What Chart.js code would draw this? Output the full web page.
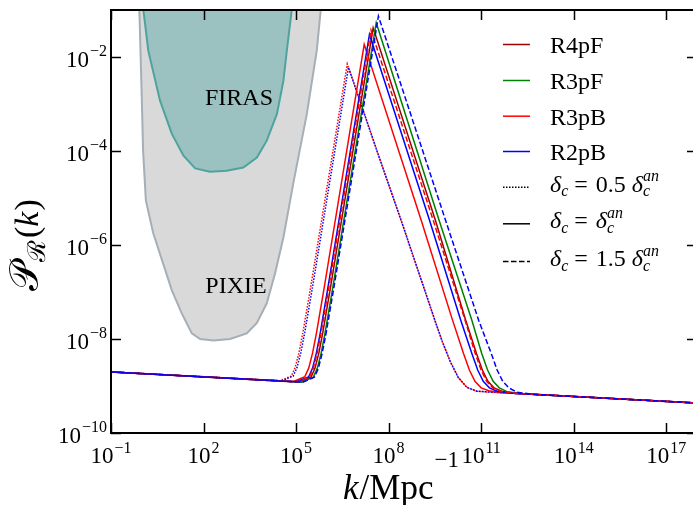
<!DOCTYPE html>
<html>
<head>
<meta charset="utf-8">
<script src="https://cdn.jsdelivr.net/npm/chart.js@4.4.0/dist/chart.umd.min.js"></script>
<style>
  html, body { margin: 0; padding: 0; background: #fff; overflow: hidden; }
  #wrap { width: 693px; height: 505px; overflow: hidden; }
</style>
</head>
<body>
<div id="wrap"><canvas id="mycanvas" width="697" height="505"></canvas></div>
<script>
// all curve values are log10(k) and log10(P_R)
var xTicks = [1e-1, 1e2, 1e5, 1e8, 1e11, 1e14, 1e17];
var yTicks = [1e-10, 1e-8, 1e-6, 1e-4, 1e-2];

var modelNames = ['R4pF', 'R3pF', 'R3pB', 'R2pB'];
var modelColors = ['#a00000', '#008000', '#ff0000', '#0000ff'];

// sensitivity regions
var pixieLogK = [-0.09, -0.08, 0.00, 0.04, 0.13, 0.37, 0.97, 1.29, 1.62, 1.89, 2.32, 2.86, 3.40, 3.73, 4.05, 4.32, 4.59, 4.91, 5.35, 5.67, 5.80, 5.83];
var pixieLogP = [-0.8, -1.0, -2.93, -3.99, -5.05, -5.75, -6.96, -7.45, -7.88, -8.00, -8.03, -8.00, -7.88, -7.66, -7.24, -6.60, -5.84, -4.69, -3.21, -1.87, -1.0, -0.8];
var firasLogK = [0.01, 0.05, 0.21, 0.59, 0.97, 1.35, 1.73, 2.21, 2.75, 3.29, 3.73, 4.05, 4.38, 4.59, 4.70, 4.86, 4.90];
var firasLogP = [-0.8, -1.0, -1.87, -2.93, -3.63, -4.10, -4.37, -4.44, -4.42, -4.35, -4.14, -3.78, -3.21, -2.51, -1.87, -1.0, -0.8];

// delta_c = 0.5 delta_c^an (dotted)
var r3pbHalfK = [-1, 4.47, 4.845, 4.97, 5.095, 5.22, 5.47, 6.66, 7.62, 8.43, 9.51, 9.75, 10.0, 10.26, 10.54, 10.86, 11.3, 18];
var r3pbHalfP = [-8.70, -8.89, -8.79, -8.61, -8.29, -7.87, -6.91, -2.15, -3.99, -5.52, -7.62, -8.07, -8.48, -8.82, -9.03, -9.11, -9.13, -9.363];
var r2pbHalfK = [-1, 4.53, 4.905, 5.03, 5.155, 5.28, 5.53, 6.70, 7.62, 8.43, 9.51, 9.75, 10.0, 10.26, 10.54, 10.86, 11.3, 18];
var r2pbHalfP = [-8.70, -8.89, -8.79, -8.61, -8.29, -7.87, -6.91, -2.22, -3.99, -5.52, -7.62, -8.07, -8.48, -8.82, -9.03, -9.11, -9.13, -9.363];

// delta_c = delta_c^an (solid)
var r4pfK = [-1, 5.11, 5.485, 5.61, 5.735, 5.86, 6.11, 7.50, 9.52, 10.50, 10.85, 11.04, 11.22, 11.42, 11.67, 12.1, 18];
var r4pfP = [-8.70, -8.91, -8.81, -8.63, -8.31, -7.89, -6.93, -1.38, -5.48, -7.60, -8.31, -8.66, -8.90, -9.04, -9.11, -9.156, -9.363];
var r3pfK = [-1, 5.18, 5.56, 5.685, 5.81, 5.935, 6.185, 7.60, 9.64, 10.70, 11.02, 11.21, 11.39, 11.59, 11.84, 12.3, 18];
var r3pfP = [-8.70, -8.92, -8.81, -8.63, -8.31, -7.89, -6.93, -1.27, -5.48, -7.60, -8.31, -8.66, -8.90, -9.04, -9.12, -9.163, -9.363];
var r3pbK = [-1, 4.9, 5.285, 5.41, 5.535, 5.66, 5.91, 7.21, 9.06, 10.05, 10.43, 10.62, 10.80, 11.0, 11.25, 11.6, 18];
var r3pbP = [-8.70, -8.91, -8.80, -8.62, -8.30, -7.88, -6.92, -1.73, -5.48, -7.55, -8.31, -8.66, -8.90, -9.04, -9.10, -9.14, -9.363];
var r2pbK = [-1, 5.0, 5.405, 5.53, 5.655, 5.78, 6.03, 7.38, 9.33, 10.34, 10.70, 10.89, 11.07, 11.27, 11.52, 12.0, 18];
var r2pbP = [-8.70, -8.91, -8.81, -8.63, -8.31, -7.89, -6.92, -1.52, -5.48, -7.60, -8.31, -8.66, -8.90, -9.04, -9.11, -9.153, -9.363];

// delta_c = 1.5 delta_c^an (dashed)
var r3pbOneHalfK = [-1, 5.05, 5.43, 5.555, 5.68, 5.805, 6.055, 7.43, 9.45, 10.48, 10.81, 11.0, 11.18, 11.38, 11.63, 12.1, 18];
var r3pbOneHalfP = [-8.70, -8.91, -8.81, -8.63, -8.31, -7.89, -6.93, -1.43, -5.48, -7.60, -8.31, -8.66, -8.90, -9.04, -9.11, -9.156, -9.363];
var r2pbOneHalfK = [-1, 5.22, 5.595, 5.72, 5.845, 5.97, 6.22, 7.67, 9.85, 10.92, 11.33, 11.52, 11.70, 11.90, 12.15, 12.7, 18];
var r2pbOneHalfP = [-8.70, -8.92, -8.81, -8.63, -8.31, -7.89, -6.93, -1.13, -5.48, -7.60, -8.31, -8.66, -8.90, -9.04, -9.13, -9.178, -9.363];

var SERIF = '"Liberation Serif", "DejaVu Serif", serif';
var DOT = [1.5, 1.5];
var DASH = [5.5, 2.5];

function pts(lk, lp) {
  return lk.map(function(v, i) { return { x: Math.pow(10, v), y: Math.pow(10, lp[i]) }; });
}

function curve(lk, lp, color, dash) {
  return { data: pts(lk, lp), borderColor: color, borderWidth: 1.5, borderDash: dash, fill: false };
}

var datasets = [
  { data: pts(pixieLogK, pixieLogP), borderColor: '#a6aeb6', backgroundColor: '#d9d9d9', borderWidth: 2, fill: 'shape', clip: 0 },
  { data: pts(firasLogK, firasLogP), borderColor: '#4fa39f', backgroundColor: '#9bc1c0', borderWidth: 2, fill: 'shape', clip: 0 },
  curve(r3pbHalfK, r3pbHalfP, modelColors[2], DOT),
  curve(r2pbHalfK, r2pbHalfP, modelColors[3], DOT),
  curve(r4pfK, r4pfP, modelColors[0], []),
  curve(r3pfK, r3pfP, modelColors[1], []),
  curve(r3pbK, r3pbP, modelColors[2], []),
  curve(r2pbK, r2pbP, modelColors[3], []),
  curve(r3pbOneHalfK, r3pbOneHalfP, modelColors[2], DASH),
  curve(r2pbOneHalfK, r2pbOneHalfP, modelColors[3], DASH)
];
// later entries are drawn on top
datasets.forEach(function(d, i) { d.order = datasets.length - i; });

function drawPow(ctx, exp, x, y, align) {
  var base = '10';
  var sup = exp < 0 ? '\u2212' + (-exp) : String(exp);
  ctx.font = '23px ' + SERIF;
  var wb = ctx.measureText(base).width;
  ctx.font = '16px ' + SERIF;
  var ws = ctx.measureText(sup).width;
  var x0 = align === 'right' ? x - wb - ws - 1 : x - (wb + ws + 1) / 2;
  ctx.font = '23px ' + SERIF;
  ctx.fillText(base, x0, y);
  ctx.font = '16px ' + SERIF;
  ctx.fillText(sup, x0 + wb + 1, y - 10.5);
}

// draws delta_c (with optional ^an) starting at x, returns new x
function drawDelta(ctx, x, y, withAn) {
  ctx.font = 'italic 24px ' + SERIF;
  ctx.fillText('\u03b4', x, y);
  x += ctx.measureText('\u03b4').width;
  ctx.font = 'italic 16px ' + SERIF;
  ctx.fillText('c', x, y + 4.5);
  var w = ctx.measureText('c').width;
  if (withAn) {
    ctx.fillText('an', x, y - 10.5);
    w = Math.max(w, ctx.measureText('an').width);
  }
  return x + w;
}

var decorations = {
  id: 'decorations',
  afterDraw: function(chart) {
    var ctx = chart.ctx, a = chart.chartArea;
    var xs = chart.scales.x, ys = chart.scales.y;
    ctx.save();
    ctx.fillStyle = '#000';
    ctx.strokeStyle = '#000';
    ctx.textAlign = 'left';
    ctx.textBaseline = 'alphabetic';

    // region labels
    ctx.font = '24px ' + SERIF;
    ctx.textAlign = 'center';
    ctx.fillText('FIRAS', 239, 105);
    ctx.fillText('PIXIE', 236, 293);
    ctx.textAlign = 'left';

    // frame
    ctx.lineWidth = 2;
    ctx.strokeRect(a.left, a.top, a.right - a.left, a.bottom - a.top);

    // inward ticks
    ctx.lineWidth = 1.5;
    ctx.beginPath();
    xs.ticks.forEach(function(t) {
      var px = Math.round(xs.getPixelForValue(t.value)) + 0.5;
      ctx.moveTo(px, a.bottom); ctx.lineTo(px, a.bottom - 10);
      ctx.moveTo(px, a.top); ctx.lineTo(px, a.top + 10);
    });
    ys.ticks.forEach(function(t) {
      var py = Math.round(ys.getPixelForValue(t.value)) + 0.5;
      ctx.moveTo(a.left, py); ctx.lineTo(a.left + 10, py);
      ctx.moveTo(a.right, py); ctx.lineTo(a.right - 10, py);
    });
    ctx.stroke();

    // tick labels
    xs.ticks.forEach(function(t) {
      drawPow(ctx, Math.round(Math.log10(t.value)), xs.getPixelForValue(t.value), 463, 'center');
    });
    ys.ticks.forEach(function(t) {
      drawPow(ctx, Math.round(Math.log10(t.value)), 107, ys.getPixelForValue(t.value) + 9.5, 'right');
    });

    // x title
    var x = 343, y = 499;
    ctx.font = 'italic 35px ' + SERIF;
    ctx.fillText('k', x, y);
    x += ctx.measureText('k').width + 1;
    ctx.font = '35px ' + SERIF;
    ctx.fillText('/Mpc', x, y);
    x += ctx.measureText('/Mpc').width + 1;
    ctx.font = '23px ' + SERIF;
    ctx.fillText('\u22121', x, y - 32);

    // y title (rotated)
    ctx.save();
    ctx.translate(38, 291);
    ctx.rotate(-Math.PI / 2);
    ctx.font = '40px ' + SERIF;
    ctx.fillText('\ud835\udcab', 0, 0);
    x = ctx.measureText('\ud835\udcab').width;
    ctx.font = '25px ' + SERIF;
    ctx.fillText('\u211b', x, 7);
    x += ctx.measureText('\u211b').width + 2;
    ctx.font = '34px ' + SERIF;
    ctx.fillText('(', x, 0);
    x += ctx.measureText('(').width;
    ctx.font = 'italic 34px ' + SERIF;
    ctx.fillText('k', x, 0);
    x += ctx.measureText('k').width + 1;
    ctx.font = '34px ' + SERIF;
    ctx.fillText(')', x, 0);
    ctx.restore();

    // legend
    var rows = [44, 80, 115.7, 151, 186.7, 223.3, 261];
    ctx.lineWidth = 1.5;
    modelNames.forEach(function(name, i) {
      ctx.strokeStyle = modelColors[i];
      ctx.setLineDash([]);
      ctx.beginPath(); ctx.moveTo(503, rows[i] + 0.5); ctx.lineTo(530, rows[i] + 0.5); ctx.stroke();
      ctx.font = '24px ' + SERIF;
      ctx.fillText(name, 550, rows[i] + 9);
    });
    var styles = [DOT, [], DASH];
    var factors = ['0.5', null, '1.5'];
    styles.forEach(function(dash, j) {
      var ry = rows[4 + j];
      ctx.strokeStyle = '#000';
      ctx.setLineDash(dash);
      ctx.beginPath(); ctx.moveTo(503, ry + 0.5); ctx.lineTo(530, ry + 0.5); ctx.stroke();
      var by = ry + 5;
      var tx = drawDelta(ctx, 550, by, false) + 6;
      ctx.font = '24px ' + SERIF;
      ctx.fillText('=', tx, by);
      tx += ctx.measureText('=').width + 8;
      if (factors[j]) {
        ctx.fillText(factors[j], tx, by);
        tx += ctx.measureText(factors[j]).width + 6;
      }
      drawDelta(ctx, tx, by, true);
    });
    ctx.setLineDash([]);
    ctx.restore();
  }
};

var ctx = document.getElementById('mycanvas');
var chart = new Chart(ctx, {
  type: 'line',
  data: { datasets: datasets },
  options: {
    responsive: false,
    animation: false,
    devicePixelRatio: 1,
    layout: { padding: { top: 10, left: 0, right: 0, bottom: 0 } },
    plugins: { legend: { display: false }, tooltip: { enabled: false } },
    elements: { point: { radius: 0 }, line: { tension: 0 } },
    scales: {
      x: {
        type: 'logarithmic', min: 1e-1, max: 1e18,
        grid: { display: false }, border: { display: false }, ticks: { display: false },
        afterBuildTicks: function(s) { s.ticks = xTicks.map(function(v) { return { value: v }; }); },
        afterFit: function(s) { s.height = 72; }
      },
      y: {
        type: 'logarithmic', min: 1e-10, max: 1e-1,
        grid: { display: false }, border: { display: false }, ticks: { display: false },
        afterBuildTicks: function(s) { s.ticks = yTicks.map(function(v) { return { value: v }; }); },
        afterFit: function(s) { s.width = 111; }
      }
    }
  },
  plugins: [decorations]
});
</script>
</body>
</html>
